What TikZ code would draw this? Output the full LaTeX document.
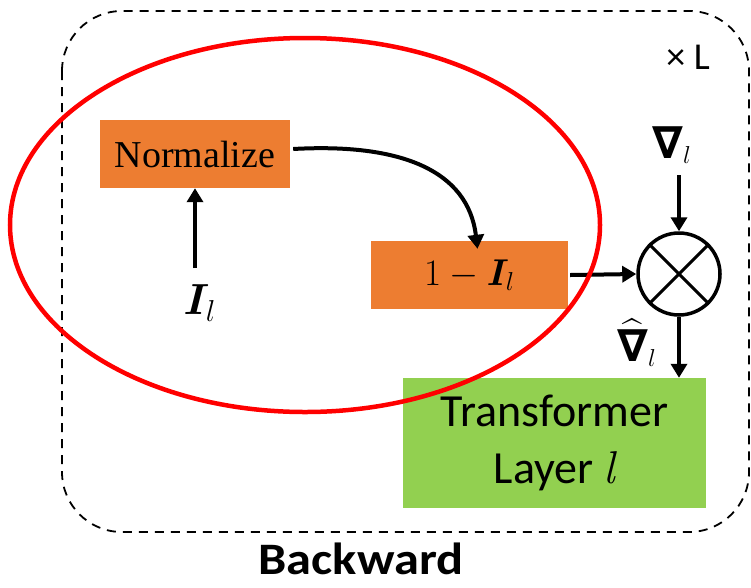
\documentclass[tikz,border=0pt]{standalone}
\usepackage{amsmath}
\usepackage{bm}
\usepackage{graphicx}
\usepackage{fontspec}
\newfontfamily\carl{Carlito}
\newfontfamily\tserif{Liberation Serif}
\newfontfamily\dvs{DejaVu Sans}
\newcommand{\bnab}{\text{\dvs\bfseries\itshape\fontsize{26}{28}\selectfont ∇}}
\newcommand{\scmath}[2]{\scalebox{#1}{\fontsize{20}{22}\selectfont$#2$}}
\usetikzlibrary{arrows.meta,shapes.geometric}
\definecolor{orbox}{HTML}{ED7D31}
\definecolor{grbox}{HTML}{92D050}
\tikzset{
  obox/.style={fill=orbox, draw=none, inner sep=0pt},
  arr/.style={line width=4pt, -{Triangle[length=14pt,width=16pt]}},
}
\begin{document}
\begin{tikzpicture}[x=1pt,y=-1pt]
\useasboundingbox (0,0) rectangle (751,587);
% outer dashed box
\draw[dashed, line width=1.8pt, dash pattern=on 9pt off 7pt, rounded corners=60pt] (62,11) rectangle (749,532);
\node[font=\carl\fontsize{38}{40}\selectfont] (xl) at (688,57) {× L};
% boxes
\node[obox, minimum width=190pt, minimum height=68pt, font=\tserif\fontsize{38}{40}\selectfont] (norm) at (195,154) {Normalize};
\node[obox, minimum width=197pt, minimum height=68pt] (onem) at (469.5,275) {\scmath{1.8}{1-\bm{I}_l}};
\node[fill=grbox, inner sep=0pt, minimum width=303pt, minimum height=130pt, align=center, font=\carl\fontsize{46}{57}\selectfont] (tl) at (554.5,443) {Transformer\\Layer $\mathit{l}$};
% multiply circle
\node[circle, draw, line width=3.5pt, fill=white, minimum size=82pt, inner sep=0pt] (mul) at (679,274) {};
\draw[line width=3pt] (mul.north west) -- (mul.south east);
\draw[line width=3pt] (mul.north east) -- (mul.south west);
% labels
\node (il) at (200,303) {\scmath{2.1}{\bm{I}_l}};
\node[inner sep=0pt] (nab) at (672,145) {\scmath{1.7}{\bnab_{l}}};
\node[inner sep=0pt] (nabh) at (637,343) {\scmath{1.7}{\widehat{\bnab}_{l}}};
\coordinate (ilt) at (195,268);
\coordinate (nabb) at (679,175);
% arrows
\draw[arr] (ilt) -- (ilt |- norm.south);
\draw[arr] (norm.east) ++(3,-5) .. controls (400,143) and (468,170) .. ([xshift=8pt,yshift=-8pt]onem.north);
\draw[arr] ([xshift=2pt]onem.east) -- (mul.west);
\draw[arr] (nabb) -- (mul.north);
\draw[arr] (mul.south) -- (mul.south |- tl.north);
% red ellipse
\draw[red, line width=4.5pt] (305,225) ellipse [x radius=295, y radius=187];
% caption
\node[font=\carl\bfseries\fontsize{45}{47}\selectfont] (bw) at (361,559) {\scalebox{1.12}[1]{Backward}};
\end{tikzpicture}
\end{document}
